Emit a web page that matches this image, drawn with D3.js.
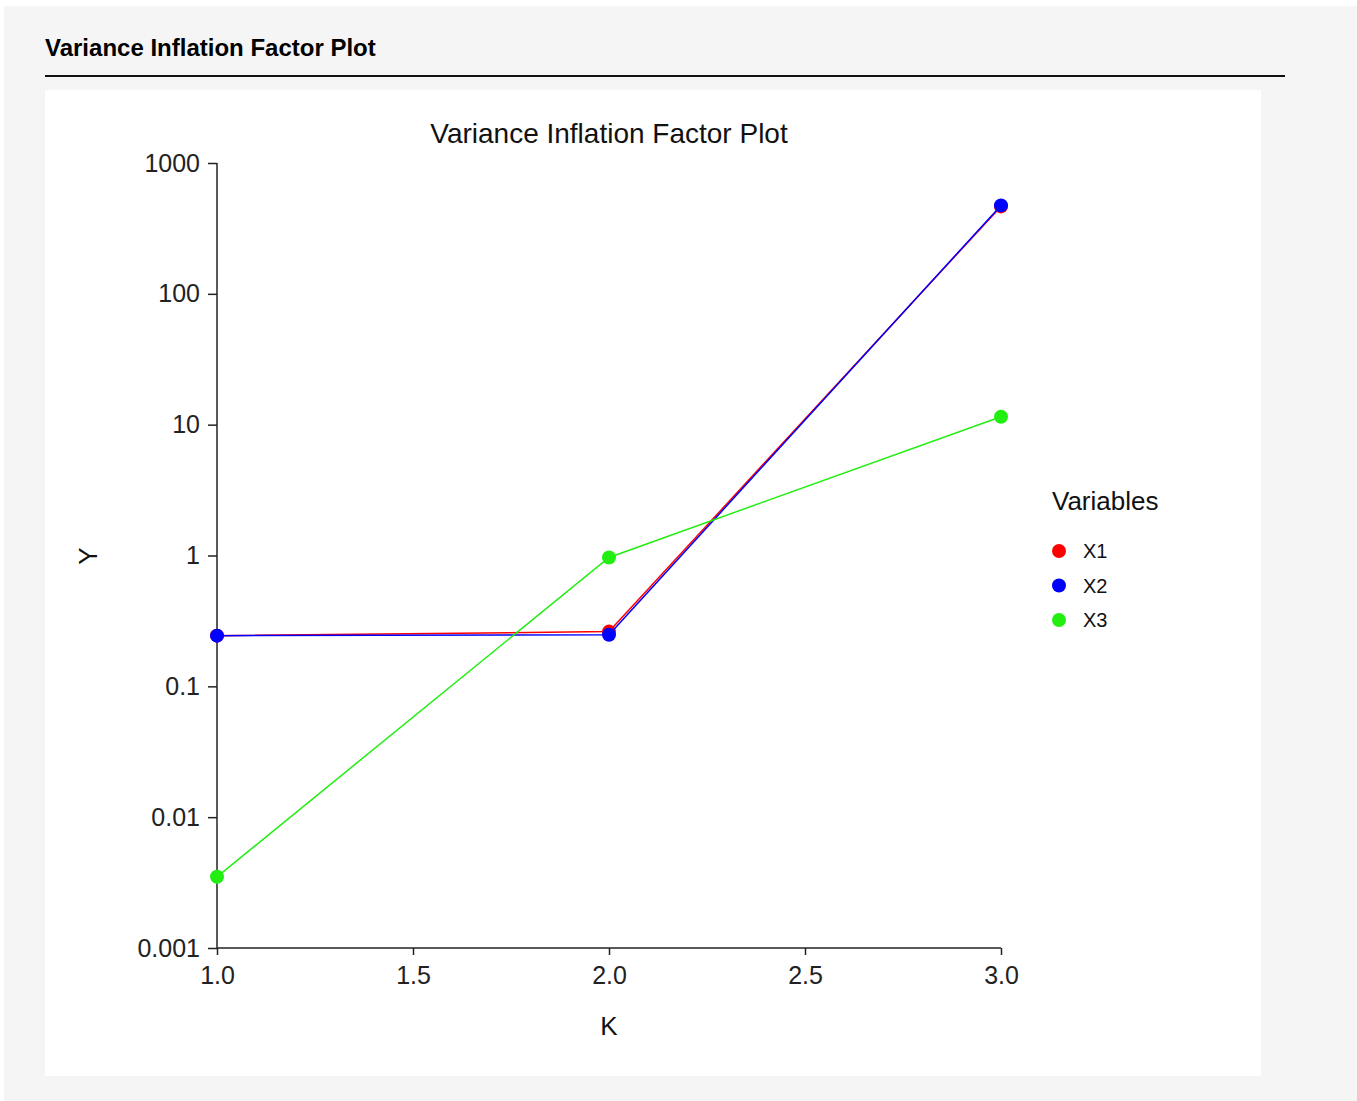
<!DOCTYPE html>
<html>
<head>
<meta charset="utf-8">
<script src="https://cdn.jsdelivr.net/npm/d3@7"></script>
<style>
  html, body { margin: 0; padding: 0; background: #ffffff; }
  #chart { position: absolute; left: 0; top: 0; }
</style>
</head>
<body>
<div id="chart"></div>
<script>
// Chart data
const kValues = [1, 2, 3];
const seriesNames = ['X1', 'X2', 'X3'];
const x1Values = [0.244, 0.262, 466];
const x2Values = [0.244, 0.248, 474];
const x3Values = [0.0035, 0.966, 11.5];
const seriesColors = ['#ff0000', '#0000ff', '#22ee11'];
const yTickValues = [0.001, 0.01, 0.1, 1, 10, 100, 1000];
const yTickLabels = ['0.001', '0.01', '0.1', '1', '10', '100', '1000'];
const xTickValues = [1.0, 1.5, 2.0, 2.5, 3.0];

const width = 1357;
const height = 1101;

// Plot area
const plot = { left: 217, right: 1001, top: 163, bottom: 948 };

const svg = d3.select('#chart')
    .append('svg')
    .attr('width', width)
    .attr('height', height)
    .style('font-family', 'Arial, "Liberation Sans", sans-serif');

// Page background and white panel
svg.append('rect')
    .attr('x', 4).attr('y', 6)
    .attr('width', width - 4).attr('height', height - 6)
    .attr('fill', '#f5f5f5');

svg.append('rect')
    .attr('x', 45).attr('y', 90)
    .attr('width', 1216).attr('height', 986)
    .attr('fill', '#ffffff');

// Header
svg.append('text')
    .attr('x', 45).attr('y', 56)
    .attr('font-size', '24px')
    .attr('font-weight', 'bold')
    .attr('fill', '#000')
    .text('Variance Inflation Factor Plot');

svg.append('line')
    .attr('x1', 45).attr('x2', 1285)
    .attr('y1', 76).attr('y2', 76)
    .attr('stroke', '#111')
    .attr('stroke-width', 2);

// Scales
const xScale = d3.scaleLinear()
    .domain([1, 3])
    .range([plot.left, plot.right]);

const yScale = d3.scaleLog()
    .domain([0.001, 1000])
    .range([plot.bottom, plot.top]);

// Chart title
svg.append('text')
    .attr('x', 609).attr('y', 143)
    .attr('text-anchor', 'middle')
    .attr('font-size', '28px')
    .attr('fill', '#111')
    .text('Variance Inflation Factor Plot');

// Axes
const yAxis = d3.axisLeft(yScale)
    .tickValues(yTickValues)
    .tickFormat((d, i) => yTickLabels[i])
    .tickSize(9)
    .tickPadding(8);

const yAxisG = svg.append('g')
    .attr('transform', `translate(${plot.left},0)`)
    .call(yAxis);

const xAxis = d3.axisBottom(xScale)
    .tickValues(xTickValues)
    .tickFormat(d3.format('.1f'))
    .tickSize(7)
    .tickPadding(11);

const xAxisG = svg.append('g')
    .attr('transform', `translate(0,${plot.bottom})`)
    .call(xAxis);

[xAxisG, yAxisG].forEach(g => {
    g.select('.domain').attr('stroke', '#222').attr('stroke-width', 1.5);
    g.selectAll('.tick line').attr('stroke', '#222').attr('stroke-width', 1.5);
    g.selectAll('.tick text')
        .attr('fill', '#222')
        .style('font-size', '25px')
        .style('font-family', 'Arial, "Liberation Sans", sans-serif');
});

// Axis lines stop at the plot edges
xAxisG.select('.domain').attr('d', `M${plot.left},0H${plot.right}`);
yAxisG.select('.domain').attr('d', `M0,${plot.bottom}V${plot.top}`);

// Axis labels
svg.append('text')
    .attr('x', 609).attr('y', 1035)
    .attr('text-anchor', 'middle')
    .attr('font-size', '26px')
    .attr('fill', '#111')
    .text('K');

svg.append('text')
    .attr('transform', 'translate(97,556) rotate(-90)')
    .attr('text-anchor', 'middle')
    .attr('font-size', '26px')
    .attr('fill', '#111')
    .text('Y');

// Series
const series = [x1Values, x2Values, x3Values].map((vals, i) => ({
    name: seriesNames[i],
    color: seriesColors[i],
    points: kValues.map((k, j) => ({ k, v: vals[j] }))
}));

const line = d3.line()
    .x(d => xScale(d.k))
    .y(d => yScale(d.v));

series.forEach(s => {
    svg.append('path')
        .datum(s.points)
        .attr('d', line)
        .attr('fill', 'none')
        .attr('stroke', s.color)
        .attr('stroke-width', 1.5);

    svg.selectAll(null)
        .data(s.points)
        .enter()
        .append('circle')
        .attr('cx', d => xScale(d.k))
        .attr('cy', d => yScale(d.v))
        .attr('r', 7)
        .attr('fill', s.color);
});

// Legend
const legend = svg.append('g')
    .attr('transform', 'translate(1052,0)');

legend.append('text')
    .attr('x', 0).attr('y', 510)
    .attr('font-size', '26px')
    .attr('fill', '#111')
    .text('Variables');

series.forEach((s, i) => {
    const y = 551 + i * 34.5;
    legend.append('circle')
        .attr('cx', 7).attr('cy', y)
        .attr('r', 7)
        .attr('fill', s.color);
    legend.append('text')
        .attr('x', 31).attr('y', y + 7)
        .attr('font-size', '20px')
        .attr('fill', '#111')
        .text(s.name);
});
</script>
</body>
</html>
